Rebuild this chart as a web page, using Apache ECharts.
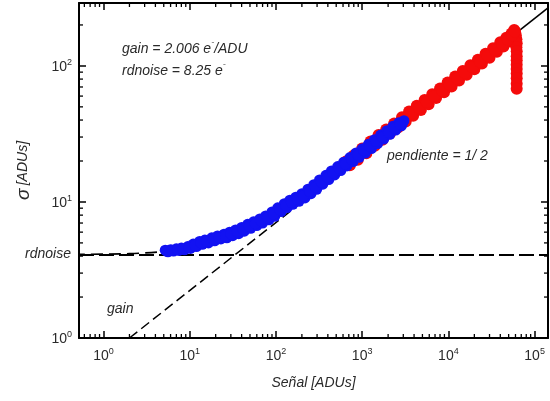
<!DOCTYPE html>
<html>
<head>
<meta charset="utf-8">
<script src="https://cdn.jsdelivr.net/npm/echarts@6/dist/echarts.min.js"></script>
<style>
  html, body { margin: 0; padding: 0; background: #fff; }
  #chart { width: 550px; height: 401px; }
</style>
</head>
<body>
<div id="chart"></div>
<script>
// axis ranges (log)
const xRange = [0.52, 143000];
const yRange = [1, 290];
const minorMantissa = [2, 3, 4, 5, 6, 7, 8, 9];

// ruido de lectura en ADU
const rdnoiseLevel = 4.11;

// recta de ganancia (pendiente 1/2)
const gainDashed = [[2, 1], [1000, 22.3]];
const gainSolid = [[1000, 22.3], [143000, 267]];
// modelo a señal baja
const modelLow = [[0.52, 4.12], [2, 4.17], [5, 4.32]];

// puntos azules [señal, sigma]
const bluePoints = [
  [5.2, 4.42], [5.6, 4.30], [6.0, 4.46], [6.5, 4.36], [7.0, 4.52], [7.5, 4.40], [8.0, 4.58], [8.7, 4.45],
  [9.5, 4.70], [10.2, 4.55], [11, 4.90], [12, 4.70], [13, 5.12], [14, 4.88], [15, 5.25], [16.5, 5.0],
  [18, 5.45], [19.5, 5.18], [21, 5.62], [23, 5.35], [25, 5.80], [27, 5.45], [29, 6.0], [31.5, 5.65],
  [34, 6.22], [37, 5.85], [40, 6.5], [43, 6.1], [47, 6.85], [51, 6.4], [55, 7.15], [60, 6.7],
  [65, 7.5], [70, 7.0], [76, 7.9], [83, 7.4], [90, 8.45], [97, 7.85], [105, 9.05], [115, 8.5],
  [125, 9.7], [135, 9.1], [145, 10.3], [157, 9.6], [170, 10.85], [185, 10.1], [200, 11.5], [217, 10.7],
  [235, 12.4], [255, 11.5], [275, 13.4], [297, 12.4], [320, 14.5], [350, 13.5], [380, 15.7], [410, 14.6],
  [440, 16.9], [480, 15.8], [520, 18.2], [565, 17.0], [610, 19.6], [665, 18.4], [720, 21.2], [785, 19.8],
  [850, 22.9], [925, 21.3], [1000, 24.6], [1090, 22.9], [1180, 26.5], [1280, 24.7], [1390, 28.7], [1510, 26.9],
  [1640, 31.0], [1780, 29.0], [1930, 33.4], [2100, 31.4], [2270, 36.0], [2450, 33.8], [2650, 38.2], [2850, 36.3],
  [3050, 39.6], [2950, 38.0],
  [5.4, 4.36], [6.2, 4.41], [7.2, 4.46], [8.3, 4.51], [9.8, 4.62], [11.5, 4.80], [13.5, 5.0], [15.7, 5.12],
  [18.7, 5.31], [22, 5.48], [26, 5.62], [30, 5.82], [35.5, 6.03], [41.5, 6.3], [49, 6.62], [57.5, 6.92],
  [67.5, 7.25], [79.5, 7.65], [93.5, 8.15], [110, 8.78], [130, 9.4], [151, 9.95], [177, 10.47], [208, 11.1],
  [245, 11.95], [286, 12.9], [335, 14.0], [395, 15.15], [460, 16.35], [542, 17.6], [637, 19.0], [752, 20.5],
  [887, 22.1], [1045, 23.8], [1230, 25.6], [1450, 27.8], [1710, 30.0], [2015, 32.4], [2360, 34.9], [2750, 37.2]
];

// puntos rojos [señal, sigma]
const redPoints = [
  [650, 19.8], [720, 18.6], [800, 22.0], [890, 20.4], [1000, 24.7], [1120, 22.8], [1250, 27.8], [1400, 25.9],
  [1550, 31.0], [1720, 28.6], [1900, 34.1], [2100, 31.8], [2350, 37.8], [2600, 35.2], [2900, 42.0], [3200, 39.0],
  [3500, 46.2], [3900, 43.0], [4300, 50.9], [4800, 47.5], [5300, 56.2], [5900, 52.3], [6500, 62.0], [7200, 58.0],
  [8000, 68.2], [8900, 64.0], [9800, 75.6], [10900, 70.5], [12000, 83.5], [13300, 78.0], [14700, 91.9], [16300, 86.0],
  [18000, 101], [20000, 94.5], [22000, 111], [24500, 104], [27000, 123], [30000, 115], [33000, 135], [36500, 127],
  [40000, 149], [43500, 139], [47000, 161], [50500, 151], [54000, 173], [56000, 163], [58000, 184], [59500, 176],
  [60500, 168], [61500, 157], [62000, 147], [61500, 137],
  [685, 19.2], [845, 21.2], [1060, 23.8], [1325, 26.8], [1635, 29.8], [2000, 33.0], [2475, 36.8], [3050, 40.5],
  [3700, 44.6], [4550, 49.2], [5600, 54.2], [6850, 60], [8450, 66], [10350, 73], [12650, 80.7], [15500, 88.9],
  [19000, 97.7], [23200, 107.5], [28500, 119], [34700, 131], [42000, 144], [49000, 156], [55000, 168], [59000, 179],
  [62000, 128], [62000, 118], [62000, 110], [62000, 102], [62000, 95], [62000, 88], [62000, 81], [62000, 74], [62000, 68]
];

function minorTicks(range) {
  let out = [];
  for (let e = Math.floor(Math.log10(range[0])) ; e <= Math.ceil(Math.log10(range[1])) ; e++) {
    for (let m of minorMantissa) {
      let v = m * Math.pow(10, e);
      if (v > range[0] && v < range[1])
        out.push(v);
    }
  }
  return out;
}

const TXT = '#2a2a2a';
const FONT = 'Liberation Sans, Arial, sans-serif';

let chart = echarts.init(document.getElementById('chart'), null, {renderer: 'canvas'});

let powLabel = (value) => {
  let n = Math.round(Math.log10(value));
  return '{b|10}{e|' + n + '}';
};
let powRich = {
  b: {fontSize: 14, lineHeight: 16, verticalAlign: 'bottom', color: TXT, fontFamily: FONT},
  e: {fontSize: 9, lineHeight: 9, verticalAlign: 'top', color: TXT, fontFamily: FONT}
};

let axisLine = {show: true, onZero: false, lineStyle: {color: '#000', width: 2}};
let axisTick = {show: true, inside: true, length: 7, lineStyle: {color: '#000', width: 1.5}};

let tickStyle = {stroke: '#000', lineWidth: 1.3};

let option = {
  animation: false,
  backgroundColor: '#fff',
  grid: {left: 79, right: 2, top: 3, bottom: 63, containLabel: false},
  xAxis: [
    {
      type: 'log', logBase: 10, min: xRange[0], max: xRange[1], position: 'bottom',
      axisLine: axisLine, axisTick: axisTick, splitLine: {show: false},
      axisLabel: {show: true, margin: 9, formatter: powLabel, rich: powRich, showMinLabel: false, showMaxLabel: false},
      name: 'Señal [ADUs]', nameLocation: 'middle', nameGap: 38,
      nameTextStyle: {fontSize: 14, fontStyle: 'italic', color: TXT, fontFamily: FONT}
    },
    {
      type: 'log', logBase: 10, min: xRange[0], max: xRange[1], position: 'top',
      axisLine: axisLine, axisTick: axisTick, splitLine: {show: false},
      axisLabel: {show: false}
    }
  ],
  yAxis: [
    {
      type: 'log', logBase: 10, min: yRange[0], max: yRange[1], position: 'left',
      axisLine: axisLine, axisTick: axisTick, splitLine: {show: false},
      axisLabel: {show: true, margin: 7, formatter: powLabel, rich: powRich, showMaxLabel: false},
      name: '{s|σ} {t|[ADUs]}', nameLocation: 'middle', nameGap: 46,
      nameTextStyle: {
        rich: {
          s: {fontSize: 19, fontStyle: 'italic', color: TXT, fontFamily: FONT},
          t: {fontSize: 14, fontStyle: 'italic', color: TXT, fontFamily: FONT}
        }
      }
    },
    {
      type: 'log', logBase: 10, min: yRange[0], max: yRange[1], position: 'right',
      axisLine: axisLine, axisTick: axisTick, splitLine: {show: false},
      axisLabel: {show: false}
    }
  ],
  graphic: [
    {type: 'text', left: 122, top: 38, style: {
      text: '{t|gain = 2.006 e}{s|-}{t|/ADU}',
      rich: {
        t: {fontSize: 14, lineHeight: 18, verticalAlign: 'bottom', fontStyle: 'italic', fill: TXT, fontFamily: FONT},
        s: {fontSize: 9, lineHeight: 9, verticalAlign: 'top', fontStyle: 'italic', fill: TXT, fontFamily: FONT}
      }
    }},
    {type: 'text', left: 122, top: 60, style: {
      text: '{t|rdnoise = 8.25 e}{s|-}',
      rich: {
        t: {fontSize: 14, lineHeight: 18, verticalAlign: 'bottom', fontStyle: 'italic', fill: TXT, fontFamily: FONT},
        s: {fontSize: 9, lineHeight: 9, verticalAlign: 'top', fontStyle: 'italic', fill: TXT, fontFamily: FONT}
      }
    }},
    {type: 'text', left: 387, top: 149, style: {
      text: 'pendiente = 1/ 2', fontSize: 14, fontStyle: 'italic', fill: TXT, fontFamily: FONT
    }},
    {type: 'text', left: 107, top: 302, style: {
      text: 'gain', fontSize: 14, fontStyle: 'italic', fill: TXT, fontFamily: FONT
    }}
  ],
  series: [
    {
      name: 'rdnoise', type: 'line', data: [], silent: true, z: 1,
      markLine: {
        silent: true, symbol: 'none', animation: false,
        lineStyle: {color: '#000', width: 1.8, type: [15, 5]},
        label: {show: true, position: 'start', distance: 8, formatter: 'rdnoise',
          fontSize: 14, fontStyle: 'italic', color: TXT, fontFamily: FONT},
        data: [{yAxis: rdnoiseLevel}]
      }
    },
    {
      name: 'gain', type: 'line', data: gainDashed, symbol: 'none', silent: true, z: 1,
      lineStyle: {color: '#000', width: 1.5, type: [10, 5]}
    },
    {
      name: 'ajuste', type: 'line', data: gainSolid, symbol: 'none', silent: true, z: 1,
      lineStyle: {color: '#000', width: 1.6, type: 'solid'}
    },
    {
      name: 'modelo', type: 'line', data: modelLow, symbol: 'none', silent: true, smooth: true, z: 1,
      lineStyle: {color: '#000', width: 1.6, type: [12, 6], dashOffset: 6}
    },
    {
      name: 'rojo', type: 'scatter', data: redPoints, symbol: 'circle', symbolSize: 12, z: 5,
      itemStyle: {color: '#f40b0b', opacity: 1}
    },
    {
      name: 'azul', type: 'scatter', data: bluePoints, symbol: 'circle', symbolSize: 11, z: 6,
      itemStyle: {color: '#1212f2', opacity: 1}
    },
    {
      name: 'minorX', type: 'custom', silent: true, xAxisIndex: 0, yAxisIndex: 0, z: 7,
      data: minorTicks(xRange).map(v => [v, yRange[0]]),
      renderItem: (params, api) => {
        let p = api.coord([api.value(0), yRange[0]]);
        let cs = params.coordSys;
        return {type: 'group', children: [
          {type: 'line', shape: {x1: p[0], y1: cs.y + cs.height, x2: p[0], y2: cs.y + cs.height - 4}, style: tickStyle},
          {type: 'line', shape: {x1: p[0], y1: cs.y, x2: p[0], y2: cs.y + 4}, style: tickStyle}
        ]};
      }
    },
    {
      name: 'minorY', type: 'custom', silent: true, xAxisIndex: 0, yAxisIndex: 0, z: 7,
      data: minorTicks(yRange).map(v => [xRange[0], v]),
      renderItem: (params, api) => {
        let p = api.coord([xRange[0], api.value(1)]);
        let cs = params.coordSys;
        return {type: 'group', children: [
          {type: 'line', shape: {x1: cs.x, y1: p[1], x2: cs.x + 4, y2: p[1]}, style: tickStyle},
          {type: 'line', shape: {x1: cs.x + cs.width, y1: p[1], x2: cs.x + cs.width - 4, y2: p[1]}, style: tickStyle}
        ]};
      }
    }
  ]
};

chart.setOption(option);
</script>
</body>
</html>
